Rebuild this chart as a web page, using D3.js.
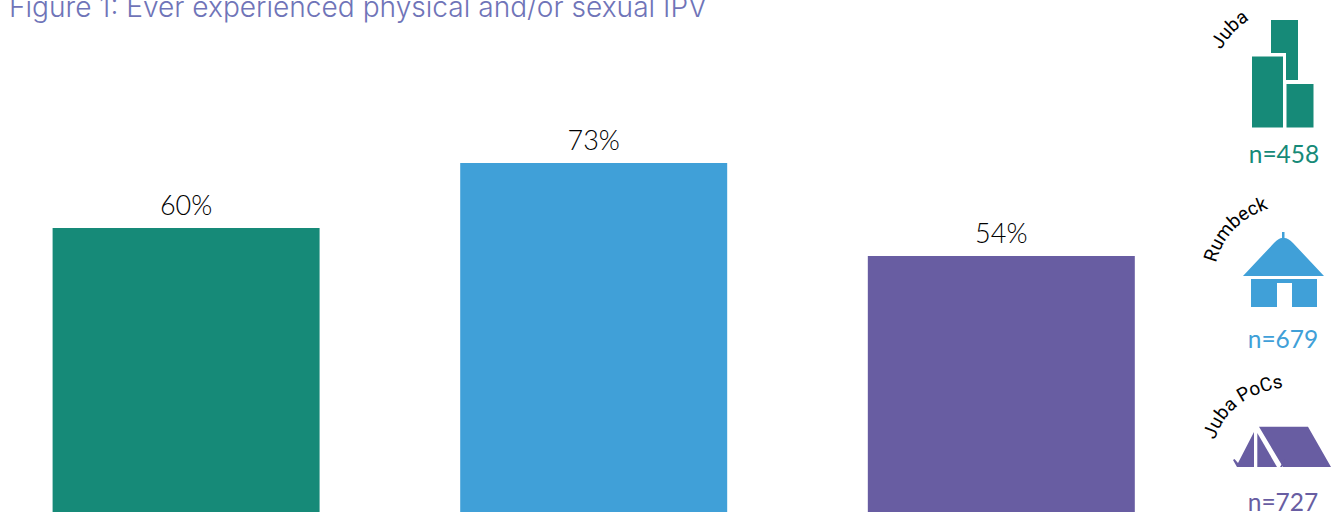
<!DOCTYPE html>
<html><head><meta charset="utf-8">
<script src="https://cdn.jsdelivr.net/npm/d3@7/dist/d3.min.js"></script>
<style>html,body{margin:0;padding:0;background:#fff;overflow:hidden}svg{display:block}</style>
</head><body><svg id="c" width="1331" height="512"></svg>
<script>
const categories = ["Juba", "Rumbeck", "Juba PoCs"];
const values = [60, 73, 54.4];
const sampleSizes = [458, 679, 727];
const colors = ["#168a78", "#40a0d8", "#685da2"];
const titleText = "Figure 1: Ever experienced physical and/or sexual IPV";

const svg = d3.select("#c");
const x = d3.scaleBand().domain(categories).range([52.6, 1134.8]).paddingInner(0.3450).paddingOuter(0);
const y = d3.scaleLinear().domain([0, 73]).range([528, 163]);

svg.append("text").attr("x", 9).attr("y", 16.5)
  .attr("font-family", "Inter").attr("font-weight", 300).attr("font-size", 28.1)
  .attr("fill", "#6f74b8").text(titleText);

svg.selectAll("rect.bar").data(categories).join("rect").attr("class", "bar")
  .attr("x", d => x(d)).attr("width", x.bandwidth())
  .attr("y", (d, i) => y(values[i])).attr("height", (d, i) => y(0) - y(values[i]))
  .attr("fill", (d, i) => colors[i]);

svg.selectAll("text.val").data(categories).join("text").attr("class", "val")
  .attr("x", d => x(d) + x.bandwidth() / 2)
  .attr("y", (d, i) => y(values[i]) - 13)
  .attr("text-anchor", "middle")
  .attr("font-family", "Lato").attr("font-weight", 300).attr("font-size", 27)
  .attr("fill", "#000")
  .text((d, i) => d3.format(".0f")(values[i]) + "%");

// Icons
const g = svg.append("g");
// buildings
g.append("path").attr("fill", colors[0]).attr("d", "M1271 20H1298V80H1286V53H1271Z");
g.append("path").attr("fill", colors[0]).attr("d", "M1252 56.5H1283V127.5H1252Z");
g.append("path").attr("fill", colors[0]).attr("d", "M1286.5 84H1313.5V127.5H1286.5Z");
// house
g.append("path").attr("fill", colors[1]).attr("d", "M1243 276L1274 243Q1279 238 1282 238V232H1284.5V238Q1288 238 1293 243L1324 276Z");
g.append("path").attr("fill", colors[1]).attr("fill-rule", "evenodd").attr("d", "M1251 279H1317V307H1292V283H1277V307H1251Z");
// tent
g.append("path").attr("fill", colors[2]).attr("d", "M1258 426.7H1308L1331 467H1283L1259 426.7Z");
g.append("path").attr("fill", colors[2]).attr("d", "M1254 432V467H1237L1233 460L1234.5 459L1238 463Z");
g.append("path").attr("fill", colors[2]).attr("d", "M1257.3 433L1277 467H1257.3Z");
g.append("path").attr("fill", colors[2]).attr("d", "M1280 467L1285 459L1286 460L1282 467Z");

// curved labels
const arcs = ["M1221 50Q1232 30 1252 18", "M1216 263Q1227 221 1273 207", "M1215 440Q1228 396 1285 387"];
const defs = svg.append("defs");
defs.selectAll("path").data(arcs).join("path").attr("id", (d, i) => "arc" + i).attr("d", d => d);
svg.selectAll("text.arc").data(categories).join("text").attr("class", "arc")
  .attr("font-family", "Roboto").attr("font-size", 19).attr("fill", "#000")
  .append("textPath").attr("href", (d, i) => "#arc" + i).text(d => d);

// sample sizes
const nY = [163, 348, 511], nX = [1284, 1283, 1283];
svg.selectAll("text.n").data(sampleSizes).join("text").attr("class", "n")
  .attr("x", (d, i) => nX[i]).attr("y", (d, i) => nY[i]).attr("text-anchor", "middle")
  .attr("font-family", "Lato").attr("font-weight", 400).attr("font-size", 24.5).attr("fill", (d, i) => colors[i])
  .text(d => "n=" + d);
</script></body></html>
